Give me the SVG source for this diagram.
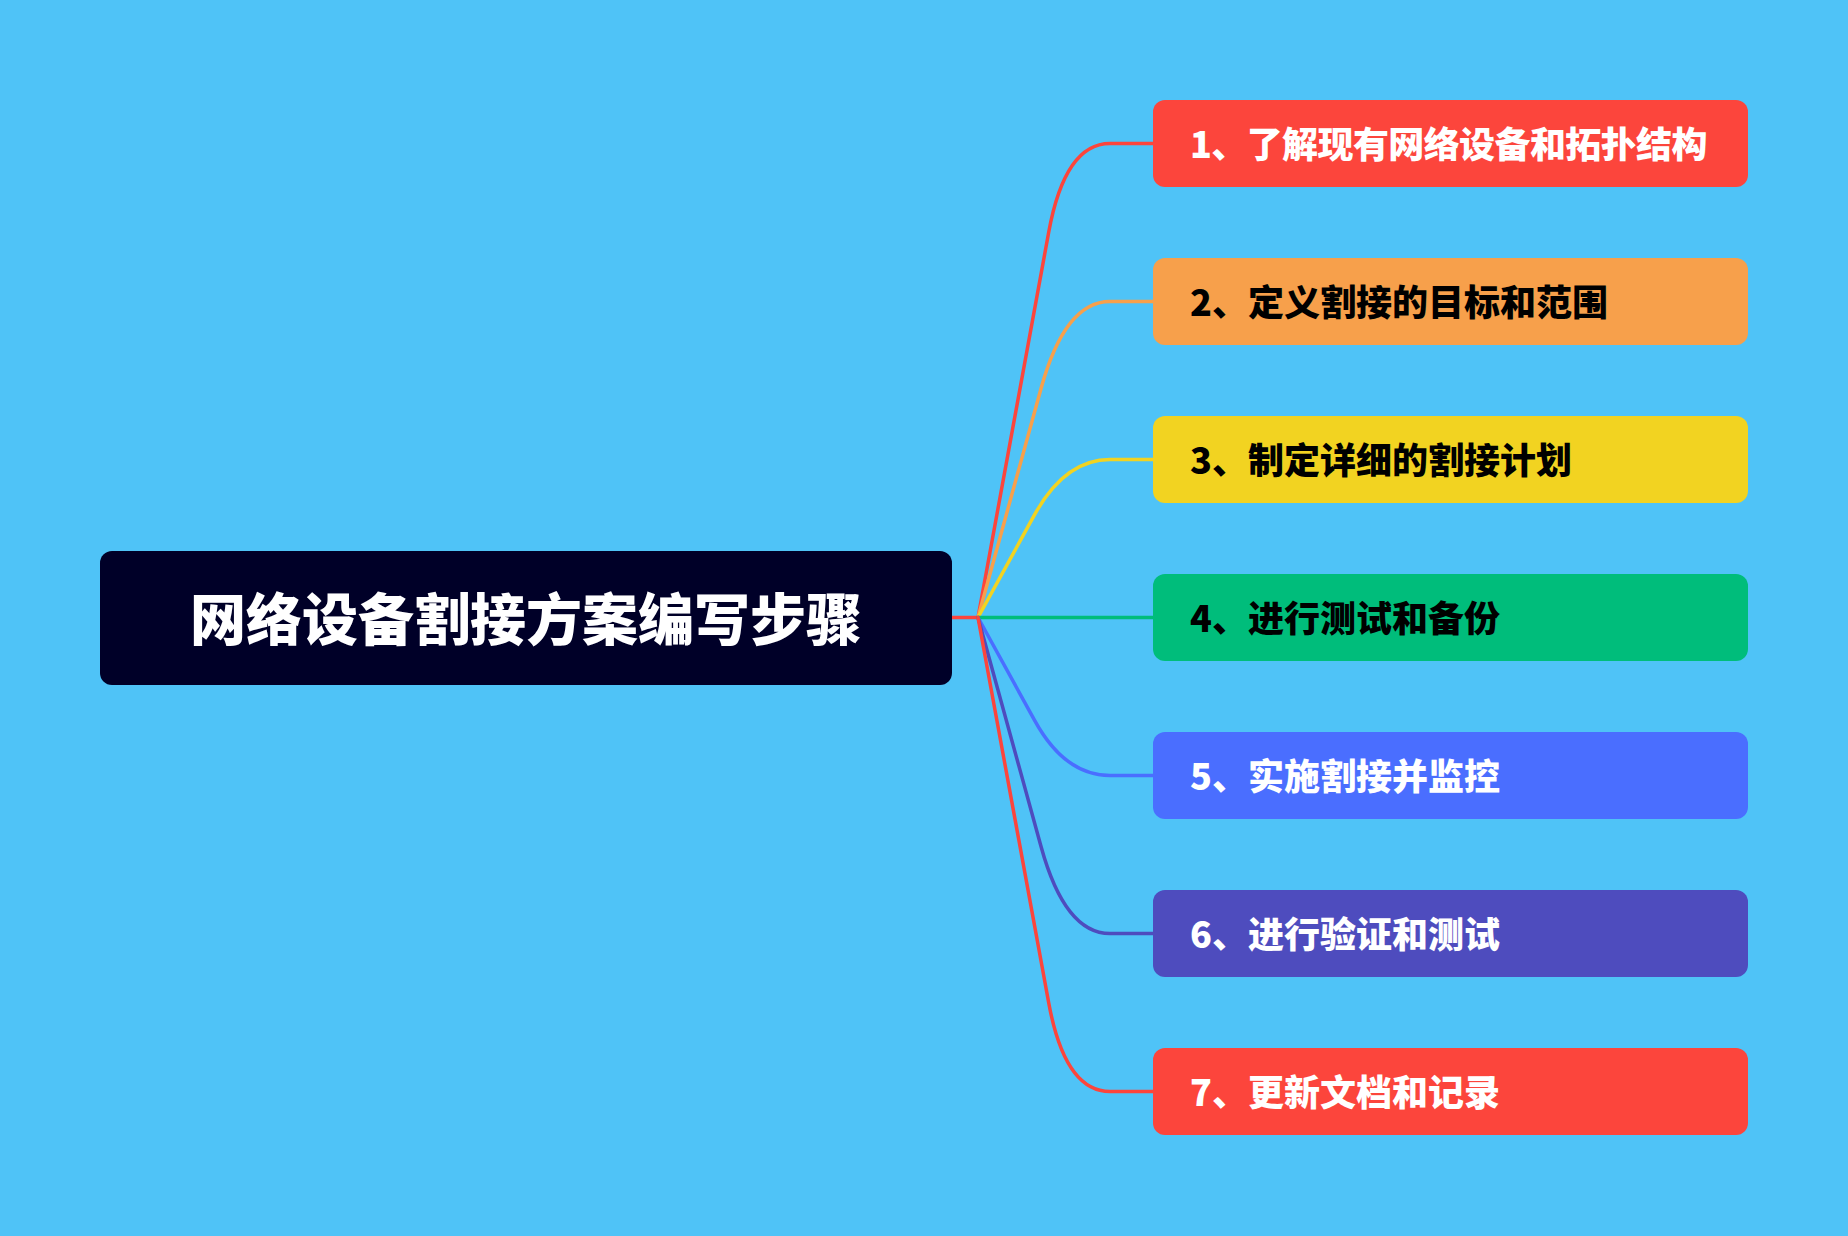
<svg xmlns="http://www.w3.org/2000/svg" width="1848" height="1236" viewBox="0 0 1848 1236">
<style>
.t{font-family:"Noto Sans CJK SC","Noto Sans",sans-serif;font-weight:900;dominant-baseline:central}
.st{font-size:36px}
.ln{fill:none;stroke-width:3.5;stroke-linecap:round;stroke-linejoin:round}
</style>
<rect width="1848" height="1236" fill="#4FC3F7"/>
<g id="connectors">
<line class="ln" x1="952" y1="617.5" x2="978" y2="617.5" stroke="#FC453C"/>
<path class="ln" stroke="#FC453C" d="M978,617.5 L1048.75,232 Q1065,143.5 1110,143.5 L1153,143.5"/>
<path class="ln" stroke="#F7A04B" d="M978,617.5 L1041.1,388.3 Q1065,301.5 1110,301.5 L1153,301.5"/>
<path class="ln" stroke="#F2D321" d="M978,617.5 L1034.6,514.7 Q1065,459.5 1110,459.5 L1153,459.5"/>
<path class="ln" stroke="#00BD7B" d="M978,617.5 L1153,617.5"/>
<path class="ln" stroke="#4A6EFF" d="M978,617.5 L1034.6,720.3 Q1065,775.5 1110,775.5 L1153,775.5"/>
<path class="ln" stroke="#4E4CBE" d="M978,617.5 L1041.1,846.7 Q1065,933.5 1110,933.5 L1153,933.5"/>
<path class="ln" stroke="#FC453C" d="M978,617.5 L1048.75,1003 Q1065,1091.5 1110,1091.5 L1153,1091.5"/>
</g>
<g id="root">
<rect x="100" y="551" width="852" height="134" rx="12" fill="#000028"/>
<text class="t" x="526" y="615" font-size="56" text-anchor="middle" fill="#FFFFFF">网络设备割接方案编写步骤</text>
</g>
<g id="n1">
<rect x="1153" y="100" width="595" height="87" rx="12" fill="#FC453C"/>
<text class="t st" x="1190" y="141.5" fill="#FFFFFF" letter-spacing="-0.6">1、了解现有网络设备和拓扑结构</text>
</g>
<g id="n2">
<rect x="1153" y="258" width="595" height="87" rx="12" fill="#F7A04B"/>
<text class="t st" x="1190" y="299.5" fill="#000000">2、定义割接的目标和范围</text>
</g>
<g id="n3">
<rect x="1153" y="416" width="595" height="87" rx="12" fill="#F2D321"/>
<text class="t st" x="1190" y="457.5" fill="#000000">3、制定详细的割接计划</text>
</g>
<g id="n4">
<rect x="1153" y="574" width="595" height="87" rx="12" fill="#00BD7B"/>
<text class="t st" x="1190" y="615.5" fill="#000000">4、进行测试和备份</text>
</g>
<g id="n5">
<rect x="1153" y="732" width="595" height="87" rx="12" fill="#4A6EFF"/>
<text class="t st" x="1190" y="773.5" fill="#FFFFFF">5、实施割接并监控</text>
</g>
<g id="n6">
<rect x="1153" y="890" width="595" height="87" rx="12" fill="#4E4CBE"/>
<text class="t st" x="1190" y="931.5" fill="#FFFFFF">6、进行验证和测试</text>
</g>
<g id="n7">
<rect x="1153" y="1048" width="595" height="87" rx="12" fill="#FC453C"/>
<text class="t st" x="1190" y="1089.5" fill="#FFFFFF">7、更新文档和记录</text>
</g>
</svg>
